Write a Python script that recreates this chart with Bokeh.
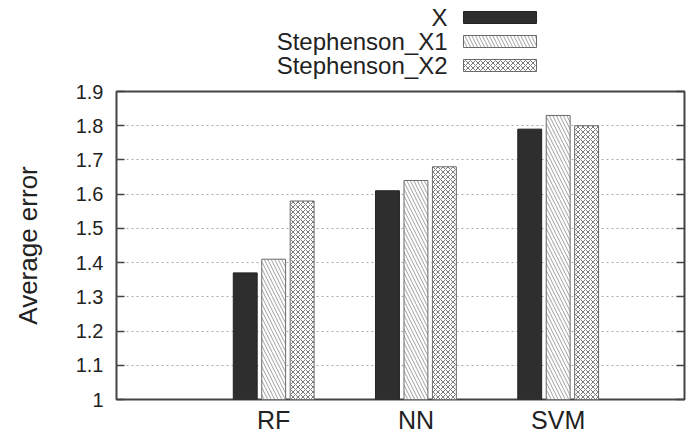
from bokeh.plotting import figure
from bokeh.layouts import column
from bokeh.models import Range1d, FixedTicker, LinearAxis, NumeralTickFormatter
from bokeh.core.properties import value
from bokeh.embed import file_html
from bokeh.resources import INLINE

# ---- data ----
categories = ["RF", "NN", "SVM"]
series = ["X", "Stephenson_X1", "Stephenson_X2"]
x_vals = [1.37, 1.61, 1.79]
s1_vals = [1.41, 1.64, 1.83]
s2_vals = [1.58, 1.68, 1.80]
yticks = [1.0, 1.1, 1.2, 1.3, 1.4, 1.5, 1.6, 1.7, 1.8, 1.9]

FONT = "Liberation Sans"
TXT = "#222222"

positions = [i + 1 for i in range(len(categories))]
offsets = [-0.2, 0.0, 0.2]
bar_w = 0.168

styles = [
    dict(fill_color="#2e2e2e", line_color="#222222"),
    dict(fill_color="white", line_color="#6a6a6a", hatch_pattern="\\",
         hatch_color="#a0a0a0", hatch_scale=7, hatch_weight=1),
    dict(fill_color="white", line_color="#6a6a6a", hatch_pattern="x",
         hatch_color="#7a7a7a", hatch_scale=5, hatch_weight=1),
]

FL = 116   # frame left (px)
FW = 568   # frame width
FH = 308   # frame height
LH = 79    # legend strip height
TOP = 12   # main plot top border

# ---- main plot ----
p = figure(frame_width=FW, frame_height=FH,
           x_range=Range1d(-0.105, 3.888), y_range=Range1d(1.0, 1.9),
           output_backend="svg", toolbar_location=None,
           min_border_left=FL, min_border_right=4, min_border_top=TOP,
           min_border_bottom=34, background_fill_color="white",
           border_fill_color="white")

for vals, off, st in zip([x_vals, s1_vals, s2_vals], offsets, styles):
    p.vbar(x=[pos + off for pos in positions], top=vals, bottom=1.0,
           width=bar_w, line_width=1, **st)

p.outline_line_color = "#444444"
p.outline_line_width = 2
p.xgrid.grid_line_color = None
p.ygrid.ticker = FixedTicker(ticks=yticks)
p.ygrid.grid_line_color = "#aaaaaa"
p.ygrid.grid_line_dash = "2 3"
p.ygrid.grid_line_width = 1

ya = p.yaxis[0]
ya.ticker = FixedTicker(ticks=yticks)
ya.formatter = NumeralTickFormatter(format="0.[0]")
ya.major_tick_in = 8
ya.major_tick_out = 0
ya.minor_tick_line_color = None
ya.axis_line_color = None
ya.major_tick_line_color = "#444444"
ya.major_tick_line_width = 1.5
ya.major_label_text_font = FONT
ya.major_label_text_font_size = "20px"
ya.major_label_text_color = TXT
ya.major_label_standoff = 13
ya.axis_label = "Average error"
ya.axis_label_text_font = FONT
ya.axis_label_text_font_size = "26px"
ya.axis_label_text_font_style = "normal"
ya.axis_label_text_color = TXT
ya.axis_label_standoff = 30

# mirrored tick marks on the right side (no labels)
ra = LinearAxis(ticker=FixedTicker(ticks=yticks),
                major_label_overrides={t: "" for t in yticks},
                major_tick_in=8, major_tick_out=0, minor_tick_line_color=None,
                axis_line_color=None, major_label_standoff=0,
                major_tick_line_color="#444444", major_tick_line_width=1.5)
p.add_layout(ra, "right")

xa = p.xaxis[0]
xa.ticker = FixedTicker(ticks=positions)
xa.major_label_overrides = {pos: c for pos, c in zip(positions, categories)}
xa.major_tick_in = 0
xa.major_tick_out = 0
xa.minor_tick_line_color = None
xa.axis_line_color = None
xa.major_label_text_font = FONT
xa.major_label_text_font_size = "25px"
xa.major_label_text_color = TXT
xa.major_label_standoff = 6

# ---- legend (outside, above the plot); its frame aligns with the main frame ----
leg = figure(width=FL + FW + 4, height=LH, x_range=Range1d(FL, FL + FW),
             y_range=Range1d(LH, 0),
             output_backend="svg", toolbar_location=None,
             x_axis_location=None, y_axis_location=None, min_border=0,
             outline_line_color=None, background_fill_color="white",
             border_fill_color="white")
leg.grid.grid_line_color = None
row_y = [17 + 24 * i for i in range(len(series))]
leg.text(x=[447] * len(series), y=row_y, text=series, text_align="right",
         text_baseline="middle", text_font=value(FONT), text_font_size="24px",
         text_color=TXT)
for yy, st in zip(row_y, styles):
    leg.quad(left=[463], right=[536], top=[yy - 6], bottom=[yy + 6],
             line_width=1, **st)

layout = column(leg, p, spacing=0)
open("out.html", "w").write(file_html(layout, INLINE))
